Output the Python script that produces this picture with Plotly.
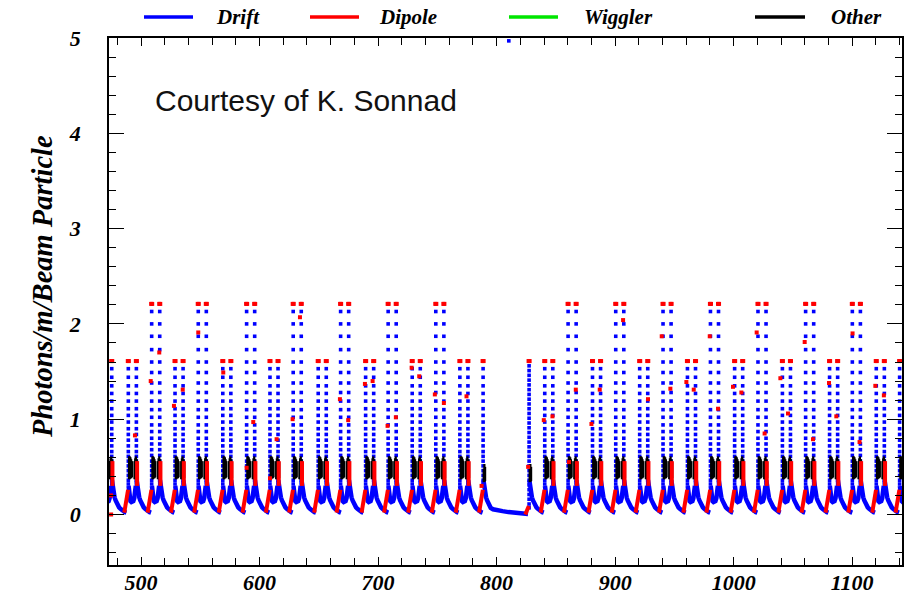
import plotly.graph_objects as go

# ---------------- data ----------------
X_RANGE = [473.0, 1142.0]
Y_RANGE = [-0.53, 5.0]
X_TICKS = [500, 600, 700, 800, 900, 1000, 1100]
Y_TICKS = [0, 1, 2, 3, 4, 5]

# first-spike positions of the spike pairs (m)
LOW_PAIRS = [468.5, 489.3, 528.7, 569.0, 608.8, 649.5, 689.5, 728.8, 769.0,
             840.6, 880.9, 920.7, 961.0, 1000.8, 1041.1, 1080.9, 1120.3, 1140.0]
HIGH_PAIRS = [509.0, 548.3, 589.1, 628.4, 668.4, 708.5, 748.7,
              860.3, 900.5, 940.4, 980.4, 1020.5, 1060.7, 1100.1]
PAIR_GAP = 6.8
SINGLES = [788.6, 827.4]

# drift values along a spike column
LEVELS_HIGH = [2.21, 2.13, 2.0, 1.87, 1.73, 1.6, 1.49, 1.38, 1.28, 1.19, 1.1, 1.02,
               0.94, 0.87, 0.8, 0.74, 0.68, 0.62, 0.56, 0.51, 0.46, 0.41, 0.36, 0.32]
LEVELS_LOW = [1.61, 1.53, 1.44, 1.35, 1.27, 1.19, 1.11, 1.04, 0.97, 0.9, 0.84, 0.78,
              0.72, 0.66, 0.61, 0.56, 0.51, 0.46, 0.41, 0.36, 0.32]
DENSE_LEVELS = [1.61, 1.56, 1.51, 1.46, 1.41, 1.36, 1.31, 1.26, 1.21, 1.16, 1.11, 1.06,
                1.01, 0.96, 0.91, 0.86, 0.81, 0.76, 0.71, 0.66, 0.61, 0.56, 0.51, 0.46,
                0.41, 0.36, 0.31, 0.26, 0.21, 0.16, 0.11, 0.07]

# drift dip between the two spikes of a pair (offset from first spike)
V_DX = [0.2, 0.6, 1.1, 1.8, 2.6, 3.4, 4.2, 5.0, 5.7, 6.3]
V_Y = [0.30, 0.22, 0.17, 0.14, 0.13, 0.13, 0.14, 0.17, 0.22, 0.30]
# drift decay after a spike (offset from spike)
DECAY_DX = [0.2, 0.6, 1.1, 1.7, 2.4, 3.2, 4.1, 5.1, 6.2, 7.4, 8.7, 10.0, 11.2, 12.4]
DECAY_Y = [0.36, 0.31, 0.26, 0.22, 0.18, 0.15, 0.12, 0.095, 0.075, 0.06, 0.045, 0.035, 0.025, 0.02]
# dipole ramp before a spike (offset from spike)
RAMP_DX = [-3.4, -3.0, -2.6, -2.2, -1.8, -1.4, -1.0, -0.6, -0.2]
RAMP_Y = [0.02, 0.05, 0.08, 0.11, 0.14, 0.17, 0.20, 0.23, 0.26]
# dipole bar at the second spike
RED_BAR_DX = 0.6
RED_BAR_Y = [0.30, 0.56]
# "other" bars inside a pair (offset from first spike)
BLACK_DX = [0.6, 1.2, 1.8, 2.4, 3.0, 5.2, 5.8, 6.4, 7.2, 7.8]
BLACK_LO = [0.37, 0.37, 0.38, 0.38, 0.39, 0.37, 0.37, 0.37, 0.38, 0.38]
BLACK_HI = [0.61, 0.61, 0.60, 0.58, 0.56, 0.56, 0.59, 0.61, 0.58, 0.55]
SINGLE_BLACK_DX = [0.5, 1.1, 1.7]
SINGLE_BLACK_LO = [0.34, 0.34, 0.35]
SINGLE_BLACK_HI = [0.48, 0.53, 0.50]

# straight section (drift) and its closing dipole ramp
STRAIGHT_X = [788.9, 789.3, 789.8, 790.4, 791.1, 791.9, 792.8, 793.8, 795.0, 797.0,
              800.0, 805.0, 810.0, 815.0, 820.0, 824.0, 826.5]
STRAIGHT_Y = [0.36, 0.31, 0.26, 0.22, 0.18, 0.15, 0.12, 0.09, 0.07, 0.055,
              0.045, 0.035, 0.025, 0.02, 0.012, 0.005, 0.005]
STRAIGHT_RAMP_X = [824.2, 825.0, 825.8, 826.6, 827.2]
STRAIGHT_RAMP_Y = [0.0, 0.02, 0.04, 0.07, 0.09]

# scattered dipole points
STRAY_RED_X = [474.8, 474.8, 494.9, 508.2, 515.4, 527.8, 535.2, 548.3, 569.4, 589.1,
               594.7, 608.8, 614.4, 627.9, 634.1, 667.8, 674.8, 688.9, 695.4, 708.0,
               715.0, 728.3, 734.7, 747.9, 755.5, 774.6, 787.3, 826.6, 839.8, 847.1,
               861.1, 866.8, 880.0, 887.0, 906.7, 927.7, 939.3, 946.6, 960.1, 966.3,
               979.8, 986.8, 999.4, 1006.5, 1019.4, 1026.1, 1039.4, 1045.8, 1059.9,
               1066.9, 1080.4, 1086.6, 1100.3, 1106.2, 1119.5, 1126.7]
STRAY_RED_Y = [0.20, 0.0, 0.83, 1.40, 1.70, 1.14, 1.31, 1.91, 1.49, 0.49,
               0.97, 0.38, 0.79, 1.00, 2.07, 1.21, 0.99, 1.37, 1.40, 0.93,
               1.02, 1.54, 1.45, 1.26, 1.17, 1.24, 0.30, 0.50, 0.99, 1.03,
               0.55, 1.31, 0.95, 1.31, 2.04, 1.21, 1.87, 1.32, 1.39, 1.31,
               1.87, 1.11, 1.34, 1.28, 1.91, 0.85, 1.43, 1.06, 1.81,
               0.79, 1.38, 1.03, 1.90, 0.76, 1.35, 1.25]
TOP_BLUE_X = [810.3]
TOP_BLUE_Y = [4.97]

LEGEND_NAMES = ["Drift", "Dipole", "Wiggler", "Other"]
LEGEND_COLORS = ["rgb(0,0,255)", "rgb(255,0,0)", "rgb(0,230,0)", "black"]

BLUE = "rgb(0,0,255)"
RED = "rgb(255,0,0)"

# ---------------- assemble the marks ----------------
blue_lx, blue_ly = [], []
blue_mx, blue_my = [], []
red_lx, red_ly = [], []
red_mx, red_my = [], []
blk_x, blk_y = [], []


def add_seg(xs, ys, tx, ty):
    xs.extend(tx)
    ys.extend(ty)
    xs.append(None)
    ys.append(None)


pairs = [(s, LEVELS_HIGH) for s in HIGH_PAIRS] + [(s, LEVELS_LOW) for s in LOW_PAIRS]
for s, lev in pairs:
    sb = s + PAIR_GAP
    add_seg(blue_lx, blue_ly, [s + d for d in V_DX], V_Y)
    add_seg(blue_lx, blue_ly, [sb + d for d in DECAY_DX], DECAY_Y)
    for col in (s, sb):
        blue_mx.extend([col] * len(lev))
        blue_my.extend(lev)
        red_mx.extend([col - 0.45, col + 0.45])
        red_my.extend([lev[0], lev[0]])
    add_seg(red_lx, red_ly, [s + d for d in RAMP_DX], RAMP_Y)
    add_seg(red_lx, red_ly, [sb + RED_BAR_DX] * 2, RED_BAR_Y)
    for d, lo, hi in zip(BLACK_DX, BLACK_LO, BLACK_HI):
        add_seg(blk_x, blk_y, [s + d, s + d], [lo, hi])

for i, s in enumerate(SINGLES):
    lev = LEVELS_LOW if i == 0 else DENSE_LEVELS
    blue_mx.extend([s] * len(lev))
    blue_my.extend(lev)
    red_mx.extend([s - 0.45, s + 0.45])
    red_my.extend([lev[0], lev[0]])
    for d, lo, hi in zip(SINGLE_BLACK_DX, SINGLE_BLACK_LO, SINGLE_BLACK_HI):
        add_seg(blk_x, blk_y, [s + d, s + d], [lo, hi])
    if i == 0:
        add_seg(red_lx, red_ly, [s + d for d in RAMP_DX], RAMP_Y)
        add_seg(blue_lx, blue_ly, STRAIGHT_X, STRAIGHT_Y)
    else:
        add_seg(red_lx, red_ly, STRAIGHT_RAMP_X, STRAIGHT_RAMP_Y)
        add_seg(blue_lx, blue_ly, [s + d for d in DECAY_DX], DECAY_Y)

blue_mx.extend(TOP_BLUE_X)
blue_my.extend(TOP_BLUE_Y)
red_mx.extend(STRAY_RED_X)
red_my.extend(STRAY_RED_Y)

fig = go.Figure()
fig.add_trace(go.Scatter(x=blue_lx, y=blue_ly, mode="lines", name="Drift",
                         line=dict(color=BLUE, width=4.5), showlegend=False, hoverinfo="skip"))
fig.add_trace(go.Scatter(x=blue_mx, y=blue_my, mode="markers", name="Drift",
                         marker=dict(color=BLUE, size=3.6, symbol="square", line=dict(width=0)),
                         showlegend=False))
fig.add_trace(go.Scatter(x=[], y=[], mode="lines", name="Wiggler",
                         line=dict(color=LEGEND_COLORS[2], width=3), showlegend=False))
fig.add_trace(go.Scatter(x=blk_x, y=blk_y, mode="lines", name="Other",
                         line=dict(color="black", width=2.2), showlegend=False, hoverinfo="skip"))
fig.add_trace(go.Scatter(x=red_lx, y=red_ly, mode="lines", name="Dipole",
                         line=dict(color=RED, width=4.0), showlegend=False, hoverinfo="skip"))
fig.add_trace(go.Scatter(x=red_mx, y=red_my, mode="markers", name="Dipole",
                         marker=dict(color=RED, size=4, symbol="square", line=dict(width=0)),
                         showlegend=False))

# ---------------- layout ----------------
L, R, T, B = 109, 6, 38, 34
W, H = 908, 599
PW, PH = W - L - R, H - T - B


def px(xp):
    return (xp - L) / PW


def py(yp):
    return (H - B - yp) / PH


serif_bi = dict(family="Liberation Serif", weight="bold", style="italic", color="black")

annotations = [
    dict(text="Courtesy of K. Sonnad", x=px(306), y=py(101), xref="paper", yref="paper",
         showarrow=False, xanchor="center", yanchor="middle",
         font=dict(family="Liberation Sans", size=30, color="#111111")),
    dict(text="Photons/m/Beam Particle", x=px(42), y=py(287), xref="paper", yref="paper",
         showarrow=False, textangle=-90, xanchor="center", yanchor="middle",
         font=dict(size=28.5, **serif_bi)),
]
shapes = []
leg_line_x = [(144, 193), (310, 359), (509, 558), (755, 805)]
leg_text_x = [238, 408, 618, 856]
for name, col, (x0, x1), tx in zip(LEGEND_NAMES, LEGEND_COLORS, leg_line_x, leg_text_x):
    shapes.append(dict(type="line", xref="paper", yref="paper", x0=px(x0), x1=px(x1),
                       y0=py(17), y1=py(17), line=dict(color=col, width=3.5)))
    annotations.append(dict(text=name, x=px(tx), y=py(17), xref="paper", yref="paper",
                            showarrow=False, xanchor="center", yanchor="middle",
                            font=dict(size=21, **serif_bi)))

axis_common = dict(showgrid=False, zeroline=False, showline=True, linecolor="black",
                   linewidth=1.5, mirror="allticks", ticks="inside", tickcolor="black",
                   automargin=False)

fig.update_layout(
    width=W, height=H,
    margin=dict(l=L, r=R, t=T, b=B, pad=0),
    paper_bgcolor="white", plot_bgcolor="white",
    showlegend=False,
    annotations=annotations, shapes=shapes,
    xaxis=dict(range=X_RANGE, tickvals=X_TICKS, ticktext=[str(v) for v in X_TICKS],
               ticklen=8, tickwidth=1.2, tickfont=dict(size=22, **serif_bi),
               ticklabelstandoff=-3,
               minor=dict(dtick=20, tick0=0, ticks="inside", ticklen=7, tickcolor="black",
                          tickwidth=1, showgrid=False),
               **axis_common),
    yaxis=dict(range=Y_RANGE, tickvals=Y_TICKS, ticktext=[str(v) for v in Y_TICKS],
               ticklen=15, tickwidth=1.4, tickfont=dict(size=22, **serif_bi),
               ticklabelstandoff=22,
               minor=dict(dtick=0.2, tick0=0, ticks="inside", ticklen=7, tickcolor="black",
                          tickwidth=1, showgrid=False),
               **axis_common),
)

fig.write_html("out.html",
               config={"displayModeBar": False},
               post_script="document.body.style.margin='0px';"
                           "document.body.style.overflow='hidden';")
